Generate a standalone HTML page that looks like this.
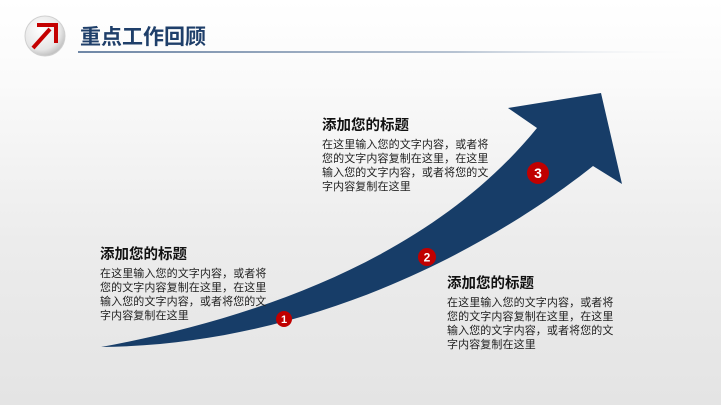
<!DOCTYPE html>
<html><head><meta charset="utf-8"><style>
body{margin:0;width:721px;height:405px;overflow:hidden;background:linear-gradient(#ffffff 0%,#fafafa 20%,#ececec 60%,#e4e4e4 100%);font-family:"Liberation Sans","Noto Sans CJK SC",sans-serif;position:relative}
.t{position:absolute;color:#111;font-weight:bold;font-size:14.5px;line-height:16px;white-space:nowrap}
.b{position:absolute;color:#222;font-size:11px;line-height:14px;white-space:nowrap;letter-spacing:0.1px}
</style></head><body>
<svg width="721" height="405" style="position:absolute;left:0;top:0">
<defs>
<radialGradient id="g" cx="40%" cy="35%" r="70%"><stop offset="0" stop-color="#ffffff"/><stop offset="0.7" stop-color="#e6e6e6"/><stop offset="1" stop-color="#b8b8b8"/></radialGradient>
<linearGradient id="ln" x1="0" x2="1"><stop offset="0" stop-color="#6f87a6"/><stop offset="0.6" stop-color="#b7c3d2"/><stop offset="1" stop-color="#ffffff" stop-opacity="0"/></linearGradient>
</defs>
<circle cx="45" cy="36" r="20" fill="url(#g)" stroke="#d0d0d0" stroke-width="1"/>
<path d="M33 48 L50 29" stroke="#c40000" stroke-width="4"/>
<path d="M37 25 L56 25 L56 43" fill="none" stroke="#c40000" stroke-width="4"/>
<rect x="78" y="51" width="630" height="2" fill="url(#ln)"/>
<text x="80" y="44" font-size="21" font-weight="bold" fill="#1f3f6a" font-family="Liberation Sans,Noto Sans CJK SC,sans-serif">重点工作回顾</text>
<path d="M101 347 C250 320 430 260 537 128 L508 108 L601 93 L622 184 L593 166 C500 240 320 345 101 347 Z" fill="#173d68"/>
<circle cx="284" cy="319" r="8" fill="#c00000"/>
<text x="284" y="323" font-size="11" font-weight="bold" fill="#fff" text-anchor="middle" font-family="Liberation Sans,sans-serif">1</text>
<circle cx="427" cy="257" r="9" fill="#c00000"/>
<text x="427" y="261.5" font-size="12" font-weight="bold" fill="#fff" text-anchor="middle" font-family="Liberation Sans,sans-serif">2</text>
<circle cx="538" cy="173" r="11" fill="#c00000"/>
<text x="538" y="178" font-size="14" font-weight="bold" fill="#fff" text-anchor="middle" font-family="Liberation Sans,sans-serif">3</text>
</svg>
<div class="t" style="left:100px;top:247px">添加您的标题</div>
<div class="b" style="left:100px;top:267px">在这里输入您的文字内容，或者将<br>您的文字内容复制在这里，在这里<br>输入您的文字内容，或者将您的文<br>字内容复制在这里</div>
<div class="t" style="left:322px;top:118px">添加您的标题</div>
<div class="b" style="left:322px;top:138px">在这里输入您的文字内容，或者将<br>您的文字内容复制在这里，在这里<br>输入您的文字内容，或者将您的文<br>字内容复制在这里</div>
<div class="t" style="left:447px;top:276px">添加您的标题</div>
<div class="b" style="left:447px;top:296px">在这里输入您的文字内容，或者将<br>您的文字内容复制在这里，在这里<br>输入您的文字内容，或者将您的文<br>字内容复制在这里</div>
</body></html>
